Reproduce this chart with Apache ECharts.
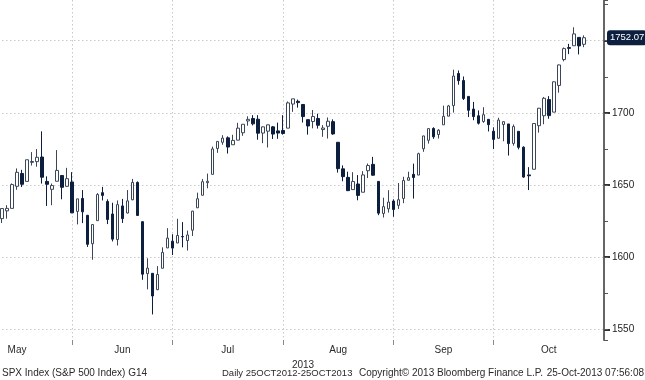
<!DOCTYPE html>
<html>
<head>
<meta charset="utf-8">
<script src="https://cdn.jsdelivr.net/npm/echarts@6/dist/echarts.min.js"></script>
<style>html,body{margin:0;padding:0;background:#fff}#c{width:645px;height:380px}</style>
</head>
<body>
<div id="c"></div>
<script>
const dates = [
'2013-05-10','2013-05-13','2013-05-14','2013-05-15','2013-05-16','2013-05-17','2013-05-20','2013-05-21','2013-05-22','2013-05-23','2013-05-24','2013-05-28','2013-05-29','2013-05-30','2013-05-31',
'2013-06-03','2013-06-04','2013-06-05','2013-06-06','2013-06-07','2013-06-10','2013-06-11','2013-06-12','2013-06-13','2013-06-14','2013-06-17','2013-06-18','2013-06-19','2013-06-20','2013-06-21','2013-06-24','2013-06-25','2013-06-26','2013-06-27','2013-06-28',
'2013-07-01','2013-07-02','2013-07-03','2013-07-05','2013-07-08','2013-07-09','2013-07-10','2013-07-11','2013-07-12','2013-07-15','2013-07-16','2013-07-17','2013-07-18','2013-07-19','2013-07-22','2013-07-23','2013-07-24','2013-07-25','2013-07-26','2013-07-29','2013-07-30','2013-07-31',
'2013-08-01','2013-08-02','2013-08-05','2013-08-06','2013-08-07','2013-08-08','2013-08-09','2013-08-12','2013-08-13','2013-08-14','2013-08-15','2013-08-16','2013-08-19','2013-08-20','2013-08-21','2013-08-22','2013-08-23','2013-08-26','2013-08-27','2013-08-28','2013-08-29','2013-08-30',
'2013-09-03','2013-09-04','2013-09-05','2013-09-06','2013-09-09','2013-09-10','2013-09-11','2013-09-12','2013-09-13','2013-09-16','2013-09-17','2013-09-18','2013-09-19','2013-09-20','2013-09-23','2013-09-24','2013-09-25','2013-09-26','2013-09-27','2013-09-30',
'2013-10-01','2013-10-02','2013-10-03','2013-10-04','2013-10-07','2013-10-08','2013-10-09','2013-10-10','2013-10-11','2013-10-14','2013-10-15','2013-10-16','2013-10-17','2013-10-18','2013-10-21','2013-10-22','2013-10-23','2013-10-24'
];
const opens = [
1626.7,1632.1,1633.8,1649.1,1658.0,1652.5,1665.7,1666.2,1669.4,1652.5,1647.0,1652.6,1656.6,1649.1,1652.1,
1631.7,1640.7,1629.0,1609.3,1625.3,1644.7,1638.6,1629.9,1612.2,1635.5,1630.6,1639.8,1651.8,1624.6,1588.6,1588.8,1577.5,1592.3,1606.4,1611.1,
1609.8,1614.3,1611.5,1618.7,1634.2,1642.9,1651.6,1657.4,1675.3,1679.6,1682.7,1677.9,1681.1,1686.2,1694.4,1696.1,1695.6,1686.0,1687.3,1690.3,1687.5,1687.8,
1689.4,1706.1,1708.0,1705.8,1695.3,1694.0,1696.1,1688.4,1690.7,1693.9,1679.6,1661.2,1655.3,1646.8,1650.7,1645.0,1659.9,1664.3,1652.5,1630.3,1633.5,1638.9,
1635.9,1640.7,1653.3,1657.4,1656.9,1675.1,1681.0,1689.2,1685.0,1691.7,1697.7,1705.0,1727.3,1722.4,1711.4,1702.6,1698.0,1694.0,1695.5,1687.3,
1682.4,1691.9,1692.3,1678.8,1687.2,1676.2,1657.0,1660.9,1691.1,1698.0,1709.2,1700.5,1719.0,1736.9,1745.2,1746.5,1752.3,1747.5
];
const highs = [
1633.7,1636.0,1651.1,1661.5,1660.5,1667.5,1672.8,1674.9,1687.2,1656.0,1651.0,1674.2,1656.6,1661.9,1658.9,
1640.4,1646.5,1629.3,1622.6,1644.4,1648.7,1640.1,1637.7,1639.3,1640.4,1646.5,1654.2,1652.5,1624.6,1599.2,1588.8,1593.8,1606.8,1620.1,1615.9,
1626.6,1624.3,1618.4,1632.1,1644.7,1654.2,1657.9,1676.6,1680.2,1684.5,1683.7,1684.8,1693.1,1692.1,1697.6,1698.4,1698.4,1690.5,1691.9,1690.9,1693.2,1698.4,
1707.9,1709.7,1709.2,1705.8,1695.3,1702.0,1699.4,1691.5,1696.8,1695.5,1679.6,1663.6,1659.2,1658.9,1656.9,1659.6,1664.9,1669.5,1652.5,1641.2,1646.4,1640.1,
1651.4,1655.7,1659.2,1664.8,1672.4,1684.1,1689.1,1690.0,1688.7,1705.0,1705.5,1729.9,1729.4,1725.2,1711.4,1707.6,1701.7,1703.9,1695.5,1690.0,
1696.6,1693.9,1692.3,1691.9,1687.2,1676.8,1662.4,1692.6,1703.4,1711.0,1711.6,1721.8,1733.5,1745.3,1747.8,1759.3,1752.3,1753.7
];
const lows = [
1623.7,1626.7,1633.8,1646.7,1648.6,1652.5,1663.5,1662.7,1651.0,1635.5,1636.0,1652.6,1640.1,1648.6,1630.5,
1622.7,1623.6,1607.1,1598.2,1625.3,1639.3,1622.9,1610.9,1608.1,1623.7,1630.3,1639.4,1628.9,1584.3,1577.7,1560.3,1577.1,1592.3,1606.4,1601.5,
1609.8,1606.8,1604.6,1614.7,1634.2,1642.9,1647.7,1657.4,1672.3,1677.9,1671.8,1677.9,1681.1,1684.1,1691.1,1691.3,1681.4,1679.0,1676.0,1681.9,1682.0,1684.9,
1689.4,1700.7,1703.6,1693.3,1684.9,1689.3,1689.1,1683.4,1682.2,1684.8,1658.6,1652.6,1645.8,1646.8,1639.4,1645.0,1654.8,1656.5,1629.1,1627.5,1630.9,1628.0,
1633.4,1637.4,1653.1,1640.6,1656.9,1673.0,1678.7,1682.0,1682.2,1691.7,1697.7,1700.2,1719.5,1708.9,1697.1,1694.9,1691.9,1693.1,1687.1,1675.0,
1682.1,1680.3,1670.4,1677.3,1674.7,1655.0,1646.5,1660.9,1686.3,1692.1,1695.9,1700.5,1714.0,1735.7,1740.7,1746.5,1740.5,1745.5
];
const closes = [
1633.7,1633.8,1650.3,1658.8,1650.5,1667.5,1666.3,1669.2,1655.4,1650.5,1649.6,1660.1,1648.4,1654.4,1630.7,
1640.4,1631.4,1608.9,1622.6,1643.4,1642.8,1626.1,1612.5,1636.4,1626.7,1639.0,1651.8,1628.9,1588.2,1592.4,1573.1,1588.0,1603.3,1613.2,1606.3,
1615.0,1614.1,1615.4,1631.9,1640.5,1652.3,1652.6,1675.0,1680.2,1682.5,1676.3,1680.9,1689.4,1692.1,1695.5,1692.4,1685.9,1690.3,1691.7,1685.3,1686.0,1685.7,
1706.9,1709.7,1707.1,1697.4,1690.9,1697.5,1691.4,1689.5,1694.2,1685.4,1661.3,1655.8,1646.1,1652.4,1642.8,1657.0,1663.5,1656.8,1630.5,1635.0,1638.2,1633.0,
1639.8,1653.1,1655.1,1655.2,1671.7,1684.0,1689.1,1683.4,1688.0,1697.6,1704.8,1725.5,1722.3,1709.9,1701.8,1697.4,1692.8,1698.7,1691.8,1681.6,
1695.0,1693.9,1678.7,1690.5,1676.1,1655.5,1656.4,1692.6,1703.2,1710.1,1698.1,1721.5,1733.2,1744.5,1744.7,1754.7,1746.4,1752.07
];
const monthNames = ['Jan','Feb','Mar','Apr','May','Jun','Jul','Aug','Sep','Oct','Nov','Dec'];
const monthLabelDates = ['2013-05-15','2013-06-14','2013-07-16','2013-08-15','2013-09-16','2013-10-15'];
const yearLabel = '2013';
const footer = ['SPX Index (S&P 500 Index) G14','Daily 25OCT2012-25OCT2013','Copyright\u00a9 2013 Bloomberg Finance L.P.','25-Oct-2013 07:56:08'];
const yMin = 1542.6, yMax = 1778.2, yMajor = 50, yMinor = 25;

const ohlc = dates.map((d, i) => [opens[i], closes[i], lows[i], highs[i]]);
const lastClose = closes[closes.length - 1];
const monthEnd = dates.map((d, i) => i < dates.length - 1 && dates[i + 1].slice(5, 7) !== d.slice(5, 7));
const labelSet = new Set(monthLabelDates);
const FONT = 'Liberation Sans, Arial, sans-serif';

const chart = echarts.init(document.getElementById('c'), null, {renderer: 'canvas'});
chart.setOption({
  animation: false,
  backgroundColor: '#ffffff',
  grid: {left: 2, right: 41, top: 0, bottom: 40, containLabel: false},
  xAxis: {
    type: 'category',
    data: dates,
    boundaryGap: false,
    max: 120,
    axisLine: {show: false},
    axisTick: {show: true, length: 5, interval: (i) => !!monthEnd[i], lineStyle: {color: '#8a8a8a', width: 1}},
    axisLabel: {
      show: true, margin: 5, fontSize: 10, fontFamily: FONT, color: '#2a2a2a',
      interval: (i, v) => labelSet.has(v),
      formatter: (v) => v ? monthNames[parseInt(v.slice(5, 7), 10) - 1] : ''
    },
    splitLine: {show: true, interval: (i) => !!monthEnd[i], lineStyle: {color: '#c8c8c8', type: [1.5, 2.5], width: 1}},
    name: yearLabel,
    nameLocation: 'middle',
    nameGap: 13.5,
    nameTextStyle: {fontSize: 10, fontFamily: FONT, color: '#2a2a2a'}
  },
  yAxis: [{
    type: 'value',
    position: 'right',
    min: yMin,
    max: yMax,
    minInterval: yMajor,
    maxInterval: yMajor,
    axisLine: {show: true, lineStyle: {color: '#666', width: 2}},
    axisTick: {show: true, length: 6, lineStyle: {color: '#333', width: 2}},
    axisLabel: {margin: 8, fontSize: 10, fontFamily: FONT, color: '#222', showMaxLabel: false, showMinLabel: false,
      formatter: (v) => String(Math.round(v))},
    splitLine: {show: true, showMinLine: false, showMaxLine: false, lineStyle: {color: '#c8c8c8', type: [1.5, 2.5], width: 1}}
  }, {
    type: 'value',
    position: 'right',
    min: yMin,
    max: yMax,
    minInterval: yMinor,
    maxInterval: yMinor,
    axisLine: {show: false},
    axisTick: {show: true, length: 4, lineStyle: {color: '#555', width: 1}},
    axisLabel: {show: false},
    splitLine: {show: false}
  }],
  series: [{
    type: 'candlestick',
    data: ohlc,
    barWidth: 3,
    itemStyle: {
      color: '#ffffff', color0: '#0c1f3f',
      borderColor: '#3b4659', borderColor0: '#0c1f3f', borderWidth: 1
    },
    markLine: {
      silent: true,
      symbol: 'none',
      data: [{yAxis: lastClose}],
      lineStyle: {color: 'rgba(0,0,0,0)', width: 1},
      label: {
        show: true, position: 'end', distance: 3,
        formatter: () => lastClose.toFixed(2),
        backgroundColor: '#0c1f3f', color: '#ffffff',
        padding: [3, 2, 2, 3], borderRadius: 3,
        fontSize: 9.5, fontFamily: FONT
      }
    }
  }],
  graphic: [
    {type: 'text', style: {text: footer[0], x: 2, y: 373, verticalAlign: 'middle', fill: '#2a2a2a', font: '10px ' + FONT}},
    {type: 'text', style: {text: footer[1], x: 222, y: 373, verticalAlign: 'middle', fill: '#2a2a2a', font: '9.5px ' + FONT}},
    {type: 'text', style: {text: footer[2], x: 359, y: 373, verticalAlign: 'middle', fill: '#2a2a2a', font: '10px ' + FONT}},
    {type: 'text', style: {text: footer[3], x: 644, y: 373, align: 'right', verticalAlign: 'middle', fill: '#2a2a2a', font: '10px ' + FONT}}
  ]
});
</script>
</body>
</html>
